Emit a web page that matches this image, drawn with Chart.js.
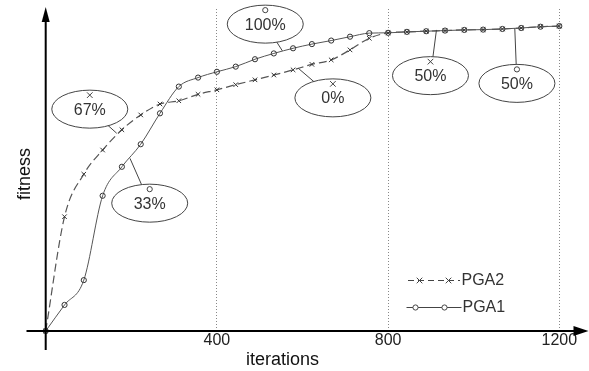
<!DOCTYPE html>
<html>
<head>
<meta charset="utf-8">
<script src="https://cdn.jsdelivr.net/npm/chart.js@4/dist/chart.umd.min.js"></script>
<style>
  html, body { margin: 0; padding: 0; background: #fff; }
  #wrap { width: 589px; height: 371px; }
</style>
</head>
<body>
<div id="wrap"><canvas id="myChart" width="589" height="371"></canvas></div>
<script>
// values
const iterations = [0, 44, 89, 133, 178, 222, 267, 311, 356, 400, 444, 489, 533, 578,
  622, 667, 711, 756, 800, 844, 889, 933, 978, 1022, 1067, 1111, 1156, 1200];
const pga1 = [0, 0.081, 0.158, 0.420, 0.510, 0.580, 0.676, 0.759, 0.787, 0.805, 0.821,
  0.844, 0.862, 0.878, 0.891, 0.902, 0.914, 0.925, 0.926, 0.929, 0.931, 0.933, 0.935,
  0.936, 0.938, 0.941, 0.945, 0.947];
const pga2 = [0, 0.355, 0.487, 0.562, 0.625, 0.671, 0.705, 0.715, 0.735, 0.749, 0.765,
  0.780, 0.795, 0.811, 0.828, 0.842, 0.873, 0.909, 0.926, 0.929, 0.931, 0.933, 0.935,
  0.936, 0.938, 0.941, 0.945, 0.947];
const xTicks = [400, 800, 1200];

// callouts: label, marker, ellipse centre and the curve point it points at
const notes = [
  {text: '67%', mark: 'cross', at: [103, 0.689], to: [166, 0.614]},
  {text: '33%', mark: 'circle', at: [243, 0.397], to: [197, 0.536]},
  {text: '100%', mark: 'circle', at: [513, 0.953], to: [553, 0.870]},
  {text: '0%', mark: 'cross', at: [671, 0.724], to: [590, 0.816]},
  {text: '50%', mark: 'cross', at: [899, 0.793], to: [913, 0.935]},
  {text: '50%', mark: 'circle', at: [1101, 0.769], to: [1096, 0.940]}
];

const FONT = '"Liberation Sans", Arial, sans-serif';
const INK = '#333';

function pts(ys){
  return iterations.map((x, i) => ({x: x, y: ys[i]}));
}

function mark(ctx, type, x, y){
  ctx.beginPath();
  if(type === 'circle'){
    ctx.arc(x, y, 2.6, 0, Math.PI * 2);
  }else{
    let r = 2.8;
    ctx.moveTo(x - r, y - r); ctx.lineTo(x + r, y + r);
    ctx.moveTo(x + r, y - r); ctx.lineTo(x - r, y + r);
  }
  ctx.stroke();
}

const extras = {
  id: 'extras',
  afterDraw(chart){
    const ctx = chart.ctx;
    const xs = chart.scales.x, ys = chart.scales.y;
    const x0 = xs.getPixelForValue(0), y0 = ys.getPixelForValue(0);
    ctx.save();

    // axes with arrows
    ctx.strokeStyle = '#000';
    ctx.fillStyle = '#000';
    ctx.lineWidth = 2;
    ctx.beginPath();
    ctx.moveTo(26.5, y0); ctx.lineTo(575, y0);
    ctx.moveTo(x0, 350); ctx.lineTo(x0, 20);
    ctx.stroke();
    ctx.beginPath();
    ctx.moveTo(588.5, y0); ctx.lineTo(573.5, y0 - 5); ctx.lineTo(573.5, y0 + 5); ctx.closePath();
    ctx.fill();
    ctx.beginPath();
    ctx.moveTo(x0, 7); ctx.lineTo(x0 - 4, 22); ctx.lineTo(x0 + 4, 22); ctx.closePath();
    ctx.fill();

    // axis titles
    ctx.fillStyle = '#111';
    ctx.font = '18px ' + FONT;
    ctx.textAlign = 'center';
    ctx.textBaseline = 'middle';
    ctx.fillText('iterations', 282.5, 360);
    ctx.save();
    ctx.translate(25, 174);
    ctx.rotate(-Math.PI / 2);
    ctx.fillText('fitness', 0, 0);
    ctx.restore();

    // callouts
    ctx.lineWidth = 1;
    ctx.strokeStyle = '#444';
    ctx.font = '16px ' + FONT;
    notes.forEach(n => {
      let cx = xs.getPixelForValue(n.at[0]), cy = ys.getPixelForValue(n.at[1]);
      let tx = xs.getPixelForValue(n.to[0]), ty = ys.getPixelForValue(n.to[1]);
      ctx.beginPath();
      ctx.moveTo(cx, cy); ctx.lineTo(tx, ty);
      ctx.stroke();
      ctx.beginPath();
      ctx.ellipse(cx, cy, 38, 19, 0, 0, Math.PI * 2);
      ctx.fillStyle = '#fff';
      ctx.fill();
      ctx.stroke();
      mark(ctx, n.mark, cx, cy - 14);
      ctx.fillStyle = INK;
      ctx.fillText(n.text, cx, cy + 1);
    });

    // legend
    ctx.textAlign = 'left';
    ctx.strokeStyle = '#444';
    ctx.setLineDash([6, 4]);
    ctx.beginPath();
    ctx.moveTo(408, 280.5); ctx.lineTo(460, 280.5);
    ctx.stroke();
    ctx.setLineDash([]);
    mark(ctx, 'cross', 419.5, 280.5);
    mark(ctx, 'cross', 448.5, 280.5);
    ctx.beginPath();
    ctx.moveTo(406.5, 307.5); ctx.lineTo(461.5, 307.5);
    ctx.stroke();
    ctx.beginPath(); ctx.arc(415.5, 307.5, 2.6, 0, Math.PI * 2);
    ctx.fillStyle = '#fff'; ctx.fill(); ctx.stroke();
    ctx.beginPath(); ctx.arc(444.5, 307.5, 2.6, 0, Math.PI * 2);
    ctx.fill(); ctx.stroke();
    ctx.fillStyle = INK;
    ctx.fillText('PGA2', 461.5, 281);
    ctx.fillText('PGA1', 462.5, 308);

    ctx.restore();
  }
};

c = new Chart(document.getElementById('myChart'), {
  type: 'line',
  data: {
    datasets: [{
      label: 'PGA2',
      data: pts(pga2),
      borderColor: '#555',
      borderWidth: 1.2,
      borderDash: [8, 4],
      pointStyle: 'crossRot',
      pointRadius: 3.2,
      pointBorderWidth: 1,
      pointBorderColor: '#333',
      cubicInterpolationMode: 'monotone',
      clip: false
    }, {
      label: 'PGA1',
      data: pts(pga1),
      borderColor: '#555',
      borderWidth: 1,
      pointStyle: 'circle',
      pointRadius: 2.6,
      pointBorderWidth: 1,
      pointBorderColor: '#333',
      pointBackgroundColor: 'rgba(0,0,0,0)',
      cubicInterpolationMode: 'monotone',
      clip: false
    }]
  },
  options: {
    responsive: false,
    animation: false,
    layout: { padding: { left: 45.7, right: 29.7, top: 9, bottom: 0 } },
    plugins: { legend: { display: false }, tooltip: { enabled: false } },
    scales: {
      x: {
        type: 'linear',
        min: 0,
        max: 1200,
        afterBuildTicks: (scale) => { scale.ticks = xTicks.map(v => ({value: v})); },
        afterFit: (scale) => { scale.height = 40; },
        border: { display: false, dash: [1, 2] },
        grid: { color: '#888', drawTicks: false, lineWidth: 1 },
        ticks: {
          padding: 0,
          color: '#222',
          font: { size: 16, family: FONT },
          callback: (v) => String(v)
        }
      },
      y: {
        min: 0,
        max: 1,
        display: false
      }
    }
  },
  plugins: [extras]
});
</script>
</body>
</html>
